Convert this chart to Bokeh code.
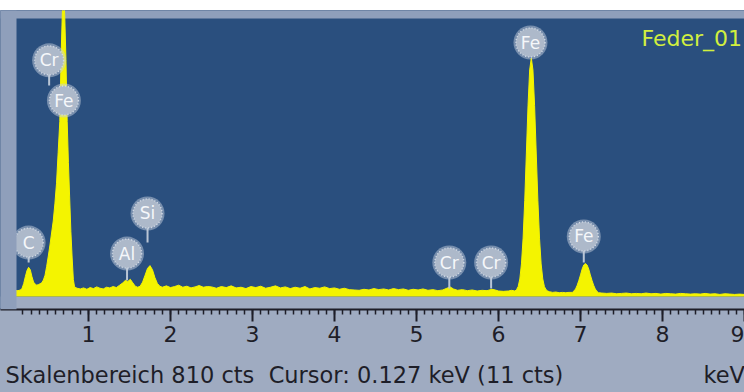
from bokeh.plotting import figure
from bokeh.layouts import column
from bokeh.models import Range1d, BoxAnnotation, Label, FixedTicker, ColumnDataSource, Spacer
from bokeh.core.properties import value
from bokeh.embed import file_html
from bokeh.resources import INLINE

# EDX spectrum "Feder_01": energy (keV) and counts per channel
energy_kev = [
    0.10, 0.14, 0.17, 0.19, 0.21, 0.23, 0.25, 0.27, 0.29, 0.31, 0.33, 0.35, 0.37,
    0.39, 0.41, 0.43, 0.45, 0.47, 0.49, 0.51, 0.53, 0.55, 0.57, 0.59, 0.61, 0.63,
    0.65, 0.665, 0.68, 0.695, 0.71, 0.725, 0.74, 0.755, 0.77, 0.785, 0.80, 0.815,
    0.83, 0.86, 0.90, 0.94, 0.98, 1.02, 1.06, 1.10, 1.14, 1.18, 1.22, 1.26, 1.30,
    1.34, 1.38, 1.42, 1.45, 1.48, 1.51, 1.54, 1.57, 1.60, 1.63, 1.66, 1.69, 1.72,
    1.75, 1.78, 1.81, 1.84, 1.87, 1.90, 1.95, 2.00, 2.05, 2.10, 2.15, 2.20, 2.25,
    2.30, 2.35, 2.40, 2.45, 2.50, 2.56, 2.62, 2.68, 2.74, 2.80, 2.86, 2.92, 2.98,
    3.04, 3.10, 3.16, 3.22, 3.28, 3.34, 3.40, 3.46, 3.52, 3.58, 3.64, 3.70, 3.76,
    3.82, 3.88, 3.94, 4.00, 4.06, 4.12, 4.18, 4.24, 4.30, 4.36, 4.42, 4.48, 4.54,
    4.60, 4.66, 4.72, 4.78, 4.84, 4.90, 4.96, 5.02, 5.08, 5.14, 5.20, 5.26, 5.32,
    5.37, 5.41, 5.45, 5.50, 5.56, 5.62, 5.68, 5.74, 5.80, 5.86, 5.92, 5.96, 6.00,
    6.06, 6.12, 6.16, 6.20, 6.22, 6.24, 6.26, 6.28, 6.30, 6.32, 6.34, 6.36, 6.38,
    6.40, 6.42, 6.44, 6.46, 6.48, 6.50, 6.52, 6.54, 6.56, 6.58, 6.60, 6.62, 6.66,
    6.70, 6.74, 6.78, 6.82, 6.86, 6.90, 6.92, 6.94, 6.96, 6.98, 7.00, 7.02, 7.04,
    7.06, 7.08, 7.10, 7.12, 7.14, 7.16, 7.18, 7.20, 7.22, 7.26, 7.32, 7.38, 7.44,
    7.50, 7.56, 7.62, 7.68, 7.74, 7.80, 7.86, 7.92, 7.98, 8.04, 8.10, 8.16, 8.22,
    8.28, 8.34, 8.40, 8.46, 8.52, 8.58, 8.64, 8.70, 8.76, 8.82, 8.88, 8.94, 9.00,
]
counts = [
    18, 17, 19, 24, 38, 58, 76, 85, 78, 58, 42, 36, 33,
    35, 37, 40, 48, 62, 88, 118, 150, 185, 220, 270, 330, 420,
    510, 690, 820, 900, 820, 690, 510, 390, 290, 190, 115, 50,
    28, 24, 22, 25, 21, 26, 23, 28, 24, 22, 27, 25, 29,
    26, 33, 40, 47, 44, 50, 40, 30, 27, 30, 42, 62, 82,
    90, 78, 55, 38, 30, 27, 31, 26, 29, 33, 27, 30, 25,
    28, 32, 27, 29, 28, 24, 29, 26, 31, 25, 27, 23, 29,
    26, 30, 24, 27, 31, 25, 28, 23, 27, 24, 29, 22, 26,
    24, 28, 23, 25, 21, 24, 20, 19, 18, 21, 19, 23, 20,
    22, 19, 23, 20, 22, 18, 21, 19, 22, 18, 20, 17, 19,
    24, 28, 22, 18, 20, 17, 19, 16, 18, 17, 21, 19, 16,
    15, 16, 18, 16, 20, 29, 51, 95, 170, 280, 418, 556, 660,
    695, 660, 556, 418, 280, 170, 95, 51, 29, 20, 16, 14, 12,
    13, 11, 12, 11, 12, 12, 16, 22, 33, 47, 63, 80, 92,
    96, 92, 80, 63, 47, 33, 22, 15, 11, 10, 9, 10, 8,
    9, 10, 8, 9, 8, 10, 8, 9, 7, 9, 8, 7, 9,
    8, 7, 8, 7, 9, 7, 8, 6, 8, 7, 6, 7, 6,
]

# Element markers: symbol, marker energy, marker height and where its stem ends (counts)
line_symbols = ["C", "Cr", "Fe", "Al", "Si", "Cr", "Cr", "Fe", "Fe"]
label_kev = [0.27, 0.52, 0.70, 1.47, 1.72, 5.40, 5.91, 6.39, 7.04]
label_cts = [157, 688, 571, 125, 242, 99, 99, 740, 175]
stem_cts = [99, 615, 571, 47, 157, 23, 23, 700, 99]

major_ticks = [1, 2, 3, 4, 5, 6, 7, 8, 9]
minor_ticks = [round(0.1 * i, 1) for i in range(2, 91)]

FULL_SCALE = 810          # "Skalenbereich" in counts
CTS_PER_PX = FULL_SCALE / 278.0
KEV_PER_PX = 1 / 82.0

SPECTRUM_BG = "#2a4f7e"
FRAME_GREY = "#8f9fbb"
PANEL_GREY = "#9fabc1"
YELLOW = "#f4f400"
INK = "#1e1e28"
FONT = "DejaVu Sans"

x_range = Range1d(-6 * KEV_PER_PX, 738 * KEV_PER_PX)

p = figure(
    width=744, height=346,
    x_range=x_range,
    y_range=Range1d(-13 * CTS_PER_PX, FULL_SCALE + 8 * CTS_PER_PX),
    y_axis_location=None, title=None,
    toolbar_location=None, output_backend="svg",
    min_border_left=0, min_border_right=0, min_border_top=0, min_border_bottom=47,
    background_fill_color=SPECTRUM_BG, border_fill_color=PANEL_GREY,
    outline_line_color=None,
)
p.grid.visible = False

# frame strip above the full-scale line, and the panel below zero counts
p.add_layout(BoxAnnotation(bottom=FULL_SCALE, fill_color=FRAME_GREY, fill_alpha=1,
                           line_color=None, level="underlay"))
p.add_layout(BoxAnnotation(top=0, fill_color=PANEL_GREY, fill_alpha=1,
                           line_color=None, level="underlay"))

# spectrum
p.varea(x=energy_kev, y1=0, y2=counts, fill_color=YELLOW)
p.line(x=energy_kev, y=counts, line_color=YELLOW, line_width=1)

# element markers
src = ColumnDataSource(dict(x=label_kev, y=label_cts, y0=stem_cts, sym=line_symbols))
p.segment(x0="x", y0="y", x1="x", y1="y0", source=src, line_color="#b9c5d5", line_width=2)
p.scatter(x="x", y="y", source=src, marker="circle", size=34,
          fill_color="#c4cedb", fill_alpha=0.5, line_color=None)
p.scatter(x="x", y="y", source=src, marker="circle", size=29,
          fill_color="#adb9ca", line_color="#d3dbe6", line_width=1.5, line_dash="1 2")
p.text(x="x", y="y", text="sym", source=src, text_align="center",
       text_baseline="middle", text_color="#f5f7fa",
       text_font=value(FONT), text_font_size="17px")

# left edge of the window frame
p.add_layout(BoxAnnotation(right=10 * KEV_PER_PX, fill_color=FRAME_GREY, fill_alpha=1,
                           line_color=None, level="overlay"))

# energy ruler
ax = p.xaxis[0]
ax.ticker = FixedTicker(ticks=major_ticks, minor_ticks=minor_ticks)
ax.axis_line_color = INK
ax.axis_line_width = 2
ax.major_tick_line_color = INK
ax.major_tick_line_width = 2
ax.minor_tick_line_color = INK
ax.minor_tick_line_width = 1.5
ax.major_tick_in = 0
ax.major_tick_out = 12
ax.minor_tick_in = 0
ax.minor_tick_out = 5
ax.major_label_standoff = 4
ax.major_label_text_font = FONT
ax.major_label_text_font_size = "22px"
ax.major_label_text_color = INK

p.add_layout(Label(x=635 * KEV_PER_PX, y=258 * CTS_PER_PX, text="Feder_01",
                   text_baseline="middle", text_color="#d2ef3e",
                   text_font=FONT, text_font_size="22px"))

# status line under the ruler
status = figure(
    width=744, height=36, x_range=x_range, y_range=Range1d(0, 36),
    x_axis_location=None, y_axis_location=None, title=None,
    toolbar_location=None, output_backend="svg",
    min_border_left=0, min_border_right=0, min_border_top=0, min_border_bottom=0,
    background_fill_color=PANEL_GREY, border_fill_color=PANEL_GREY,
    outline_line_color=None,
)
status.grid.visible = False
status.add_layout(Label(x=-1 * KEV_PER_PX, y=18,
                        text="Skalenbereich 810 cts\u00a0\u00a0Cursor: 0.127 keV (11 cts)",
                        text_baseline="middle", text_color=INK,
                        text_font=FONT, text_font_size="22.5px"))
status.add_layout(Label(x=697 * KEV_PER_PX, y=18, text="keV",
                        text_baseline="middle", text_color=INK,
                        text_font=FONT, text_font_size="22.5px"))

page = column(Spacer(width=744, height=10, styles={"background-color": "white"}),
              p, status, spacing=0, styles={"background-color": PANEL_GREY})
open("out.html", "w").write(file_html(page, INLINE))
